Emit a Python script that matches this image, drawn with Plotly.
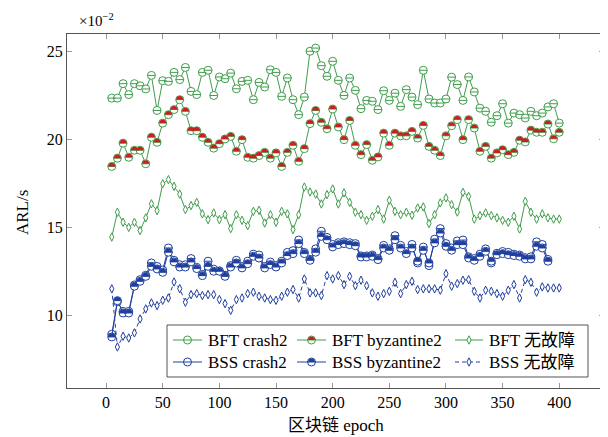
import plotly.graph_objects as go

# ---------------- data ----------------
epochs = list(range(5, 405, 5))          # 80 epochs
epochs_bss = list(range(5, 395, 5))      # BSS crash2 / byzantine2 stop at 390

bft_crash2 = [22.36, 22.36, 23.18, 22.56, 23.18, 23.06, 22.88, 23.65, 21.66, 23.35, 23.31, 23.82, 23.41, 24.10,
              22.74, 22.56, 23.82, 23.94, 22.51, 23.56, 23.46, 23.78, 22.89, 23.31, 23.37, 22.27, 23.25, 22.99,
              23.97, 23.82, 22.46, 23.50, 22.27, 21.42, 22.42, 25.02, 25.20, 24.20, 23.60, 24.45, 23.37, 22.51,
              23.50, 22.80, 21.76, 22.23, 22.18, 21.71, 22.78, 22.23, 22.64, 21.89, 22.84, 22.42, 21.99, 23.94,
              22.31, 22.08, 22.08, 22.31, 23.55, 23.13, 22.23, 23.56, 22.71, 21.79, 21.61, 20.99, 21.36, 22.04,
              20.94, 21.51, 21.42, 21.23, 21.61, 21.36, 21.51, 21.86, 22.04, 20.94]

bft_byz2 = [18.48, 18.95, 19.80, 19.00, 19.40, 19.40, 18.63, 20.14, 19.85, 20.94, 21.42, 21.71, 22.27, 21.61,
            20.51, 20.51, 20.14, 19.85, 19.52, 19.77, 20.04, 20.19, 19.34, 20.00, 19.00, 18.95, 19.10, 19.28,
            18.95, 19.25, 18.48, 19.28, 19.68, 18.77, 19.49, 20.91, 21.66, 20.99, 20.62, 21.74, 20.72, 20.00,
            21.09, 19.68, 19.15, 19.72, 18.83, 19.02, 20.37, 19.68, 20.37, 20.22, 20.22, 20.47, 20.09, 20.81,
            19.62, 19.40, 19.10, 20.22, 20.79, 21.14, 20.00, 21.14, 20.66, 19.34, 19.62, 18.95, 19.25, 19.43,
            19.15, 19.28, 19.97, 19.87, 20.54, 20.42, 20.42, 20.89, 20.05, 20.42]

bft_nofault = [14.47, 15.88, 15.31, 15.02, 15.31, 14.84, 15.56, 16.36, 15.97, 17.50, 17.73, 17.35, 16.91, 16.03,
               16.26, 16.44, 15.79, 15.46, 15.84, 15.46, 15.74, 14.95, 15.74, 15.42, 15.12, 15.93, 15.99, 15.27,
               15.74, 15.31, 15.93, 15.79, 14.89, 15.74, 17.31, 17.03, 16.91, 16.35, 16.88, 17.20, 16.35, 16.98,
               16.44, 15.88, 15.74, 15.42, 15.65, 16.03, 15.49, 16.56, 15.93, 15.74, 15.88, 15.71, 16.12, 16.18,
               15.24, 15.74, 16.41, 16.69, 16.31, 15.89, 17.01, 16.78, 15.49, 15.69, 15.84, 15.69, 15.56, 15.42,
               15.31, 15.65, 14.93, 16.50, 15.88, 15.49, 15.79, 15.56, 15.49, 15.49]

bss_crash2 = [8.95, 10.80, 10.25, 10.25, 11.75, 12.05, 12.30, 13.00, 12.80, 12.60, 13.85, 13.15, 12.90, 12.90,
              13.25, 12.75, 12.35, 13.10, 12.65, 12.55, 12.30, 12.85, 13.15, 12.80, 13.10, 13.50, 13.45, 12.80,
              13.05, 12.85, 13.10, 13.60, 13.70, 14.30, 13.60, 13.20, 13.80, 14.80, 14.45, 14.05, 14.15, 14.20,
              14.15, 14.10, 13.40, 13.40, 13.45, 13.25, 14.00, 13.80, 14.55, 14.00, 13.65, 14.05, 13.00, 13.90,
              12.85, 14.35, 14.95, 14.10, 13.85, 14.25, 14.30, 13.35, 13.25, 13.50, 13.80, 13.00, 13.55, 13.65,
              13.60, 13.50, 13.45, 13.30, 13.35, 14.20, 14.05, 13.20]

bss_byz2 = [8.80, 10.86, 10.16, 10.16, 11.68, 11.96, 12.24, 12.81, 12.66, 12.47, 13.61, 13.06, 12.77, 12.77,
            13.06, 12.68, 12.28, 12.81, 12.53, 12.53, 12.24, 12.77, 13.00, 12.72, 12.96, 13.38, 13.28, 12.72,
            12.91, 12.77, 13.00, 13.42, 13.53, 14.10, 13.53, 13.15, 13.61, 14.51, 14.32, 13.91, 14.04, 14.10,
            14.04, 13.98, 13.34, 13.34, 13.38, 13.19, 13.85, 13.72, 14.32, 13.85, 13.53, 13.85, 13.10, 13.72,
            13.00, 14.14, 14.70, 13.95, 13.72, 14.04, 14.04, 13.28, 13.15, 13.38, 13.66, 13.10, 13.47, 13.53,
            13.47, 13.42, 13.38, 13.23, 13.23, 13.95, 13.85, 13.10]

bss_nofault = [11.53, 8.23, 8.84, 8.74, 9.03, 9.82, 10.39, 10.73, 10.58, 10.88, 11.01, 11.92, 11.54, 10.77,
               11.20, 11.26, 11.15, 11.20, 11.20, 10.92, 10.69, 10.31, 10.92, 11.01, 11.26, 11.34, 11.11, 11.01,
               10.92, 10.88, 11.11, 11.34, 11.49, 11.01, 12.09, 11.30, 11.30, 11.15, 12.28, 12.09, 12.28, 11.77,
               12.24, 11.71, 12.02, 11.71, 11.30, 11.11, 11.26, 11.39, 11.90, 11.26, 11.77, 11.96, 11.49, 11.53,
               11.53, 11.53, 11.45, 12.39, 11.68, 11.83, 12.02, 12.05, 11.39, 11.01, 11.45, 11.39, 11.26, 11.11,
               11.45, 11.77, 11.01, 12.05, 11.90, 11.34, 11.64, 11.58, 11.58, 11.58]

x_ticks = [0, 50, 100, 150, 200, 250, 300, 350, 400]
y_ticks = [10, 15, 20, 25]
legend_labels = ["BFT crash2", "BFT byzantine2", "BFT 无故障", "BSS crash2", "BSS byzantine2", "BSS 无故障"]

# ---------------- styling ----------------
GREEN = "#3f9d4b"
RED = "#c8201f"
BLUE = "#1f3f9e"
FONT = "Liberation Serif, Noto Sans CJK SC, serif"

# the page body has an 8px margin, so the figure is drawn 8px right/down of the window origin
BODY = 8
W, H = 608 - BODY, 437 - BODY
# plot area in window pixels
PX0, PX1 = 67, 604
PY0, PY1 = 34, 388
ML, MT = PX0 - BODY, PY0 - BODY
MR, MB = W - (PX1 - BODY), H - (PY1 - BODY)

MS = 8          # circle diameter
EW = 5.6        # line-ew size so that it spans the circle
K = 0.5523


def paper_x(px):
    return (px - PX0) / (PX1 - PX0)


def paper_y(py):
    return (PY1 - py) / (PY1 - PY0)


def half_disk_path(r):
    return (f"M{-r},0 C{-r},{K*r:.3f} {-K*r:.3f},{r} 0,{r} "
            f"C{K*r:.3f},{r} {r},{K*r:.3f} {r},0 Z")


fig = go.Figure()
shapes = []


def circle_series(xs, ys, color, half=None, xa="x", ya="y", mode="lines+markers"):
    fig.add_trace(go.Scatter(
        x=xs, y=ys, mode=mode, xaxis=xa, yaxis=ya,
        line=dict(color=color, width=1),
        marker=dict(symbol="circle", size=MS, color="white", line=dict(color=color, width=1)),
        hoverinfo="skip"))
    fig.add_trace(go.Scatter(
        x=xs, y=ys, mode="markers", xaxis=xa, yaxis=ya,
        marker=dict(symbol="line-ew", size=EW, color=color, line=dict(color=color, width=1)),
        hoverinfo="skip"))
    if half is not None:
        xref = "x" if xa == "x" else "x2"
        yref = "y" if ya == "y" else "y2"
        for xv, yv in zip(xs, ys):
            shapes.append(dict(type="path", xref=xref, yref=yref,
                               xsizemode="pixel", ysizemode="pixel",
                               xanchor=xv, yanchor=yv, path=half_disk_path(3.6),
                               fillcolor=half, line=dict(width=0), layer="above"))


def diamond_series(xs, ys, color, dash="solid", xa="x", ya="y"):
    fig.add_trace(go.Scatter(
        x=xs, y=ys, mode="lines+markers", xaxis=xa, yaxis=ya,
        line=dict(color=color, width=1, dash=dash),
        marker=dict(symbol="diamond-tall", size=6, color="white", line=dict(color=color, width=1)),
        hoverinfo="skip"))


DASH = "4px,3px"

circle_series(epochs, bft_crash2, GREEN)
circle_series(epochs, bft_byz2, GREEN, half=RED)
diamond_series(epochs, bft_nofault, GREEN)
circle_series(epochs_bss, bss_crash2, BLUE)
circle_series(epochs_bss, bss_byz2, BLUE, half=BLUE)
diamond_series(epochs, bss_nofault, BLUE, dash=DASH)

# ---------------- legend (drawn in window-pixel coordinates on an overlay axis) ----------------
box = (167, 325, 588, 377)
shapes.append(dict(type="rect", xref="x2", yref="y2", x0=box[0], x1=box[2], y0=box[1], y1=box[3],
                   line=dict(color="#555555", width=1), fillcolor="white", layer="below"))
rows = [340, 362]
cols = [(173, 202), (297, 326), (455, 483)]
specs = [("c", GREEN, None, "solid"), ("c", GREEN, RED, "solid"), ("d", GREEN, None, "solid"),
         ("c", BLUE, None, "solid"), ("c", BLUE, BLUE, "solid"), ("d", BLUE, None, DASH)]
annotations = []
for i, (kind, color, half, dash) in enumerate(specs):
    r, c = divmod(i, 3)
    y = rows[r]
    x0, x1 = cols[c]
    xm = (x0 + x1) / 2
    fig.add_trace(go.Scatter(x=[x0, x1], y=[y, y], mode="lines", xaxis="x2", yaxis="y2",
                             line=dict(color=color, width=1, dash=dash), hoverinfo="skip"))
    if kind == "c":
        circle_series([xm], [y], color, half=half, xa="x2", ya="y2", mode="markers")
    else:
        fig.add_trace(go.Scatter(x=[xm], y=[y], mode="markers", xaxis="x2", yaxis="y2",
                                 marker=dict(symbol="diamond-tall", size=6, color="white",
                                             line=dict(color=color, width=1)), hoverinfo="skip"))
    annotations.append(dict(x=paper_x(x1 + 4), y=paper_y(y), xref="paper", yref="paper",
                            text=legend_labels[i], showarrow=False, xanchor="left", yanchor="middle",
                            font=dict(family=FONT, size=17, color="black")))

# axis titles and exponent
annotations.append(dict(x=paper_x(335.5), y=paper_y(425), xref="paper", yref="paper", text="区块链 epoch",
                        showarrow=False, xanchor="center", yanchor="middle",
                        font=dict(family=FONT, size=17, color="black")))
annotations.append(dict(x=paper_x(22), y=paper_y(213), xref="paper", yref="paper", text="ARL/s",
                        showarrow=False, xanchor="center", yanchor="middle", textangle=-90,
                        font=dict(family=FONT, size=17, color="black")))
annotations.append(dict(x=paper_x(77), y=paper_y(20), xref="paper", yref="paper",
                        text="×10<sup>−2</sup>", showarrow=False, xanchor="left", yanchor="middle",
                        font=dict(family=FONT, size=15, color="black")))

axis_common = dict(showgrid=False, zeroline=False, showline=True, linecolor="#555555", linewidth=1,
                   mirror="ticks", ticks="inside", ticklen=5, tickcolor="#999999", tickwidth=1,
                   tickfont=dict(family=FONT, size=16, color="black"))

fig.update_layout(
    width=W, height=H,
    margin=dict(l=ML, r=MR, t=MT, b=MB, pad=0),
    paper_bgcolor="white", plot_bgcolor="white",
    showlegend=False,
    xaxis=dict(range=[-34.5, 439.5], tickmode="array", tickvals=x_ticks,
               ticktext=[str(v) for v in x_ticks], **axis_common),
    yaxis=dict(range=[5.9, 26.0], tickmode="array", tickvals=y_ticks,
               ticktext=[str(v) for v in y_ticks], **axis_common),
    xaxis2=dict(overlaying="x", anchor="y2", range=[PX0, PX1], visible=False, fixedrange=True),
    yaxis2=dict(overlaying="y", anchor="x2", range=[PY1, PY0], visible=False, fixedrange=True),
    shapes=shapes,
    annotations=annotations,
)

fig.write_html("out.html")
